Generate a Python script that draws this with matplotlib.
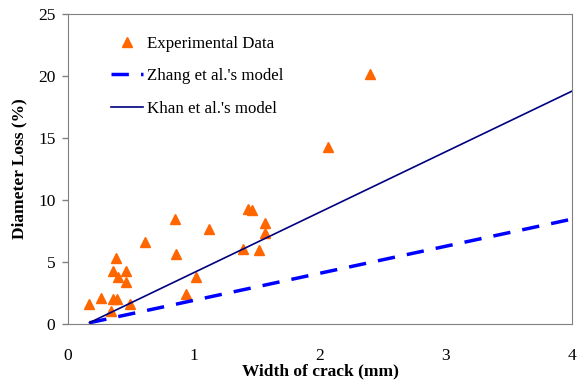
import matplotlib.pyplot as plt
import numpy as np

plt.rcParams['font.family'] = ['Liberation Serif', 'DejaVu Serif']

crack_w = [0.17, 0.26, 0.34, 0.36, 0.39, 0.38, 0.36, 0.40, 0.46, 0.46, 0.49,
           0.61, 0.85, 0.86, 0.94, 1.02, 1.12, 1.39, 1.43, 1.46, 1.52, 1.56,
           1.56, 2.06, 2.40]
dia_loss = [1.65, 2.13, 1.05, 2.05, 2.05, 5.36, 4.31, 3.77, 4.28, 3.42, 1.65,
            6.63, 8.46, 5.63, 2.45, 3.77, 7.65, 6.04, 9.30, 9.22, 5.98, 8.14,
            7.33, 14.25, 20.2]

model_x = [0.17, 4.0]
zhang_y = [0.1, 8.46]
khan_y = [0.1, 18.78]

fig = plt.figure(figsize=(5.78, 3.85), dpi=100)
ax = fig.add_axes([0.1176, 0.1584, 0.872, 0.8052])

ax.plot(crack_w, dia_loss, linestyle='none', marker='^', color='#FF6600',
        markersize=7, label='Experimental Data')
ax.plot(model_x, zhang_y, color='#0000FF', lw=2.5, dashes=(5, 3.5),
        label="Zhang et al.'s model")
ax.plot(model_x, khan_y, color='#000080', lw=1.2, label="Khan et al.'s model")

ax.set_xlim(0, 4)
ax.set_ylim(0, 25)
ax.set_xticks(np.arange(0, 5, 1))
ax.set_yticks(np.arange(0, 30, 5))
ax.tick_params(axis='x', length=0, pad=17, labelsize=12.5)
ax.tick_params(axis='y', length=4, width=1, color='#808080', pad=5, labelsize=12.5)
for s in ax.spines.values():
    s.set_color('#808080')

ax.set_xlabel('Width of crack (mm)', fontweight='bold', fontsize=12.5, labelpad=0)
ax.set_ylabel('Diameter Loss (%)', fontweight='bold', fontsize=12.5, labelpad=8)

ax.legend(loc='upper left', bbox_to_anchor=(0.071, 0.952), frameon=False,
          fontsize=12.2, labelspacing=0.97, handlelength=1.9, handletextpad=0.25,
          borderaxespad=0)

fig.savefig('out.png', dpi=100)
